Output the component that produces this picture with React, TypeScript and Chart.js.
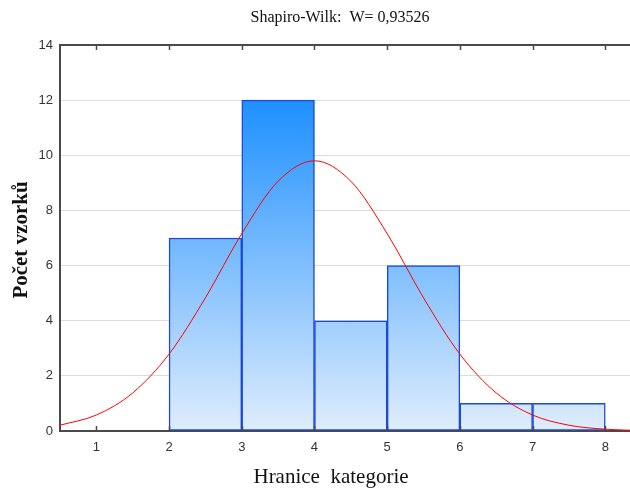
import React, { useEffect, useRef } from "react";
import { Chart, registerables } from "chart.js";

Chart.register(...registerables);

// Histogram bins (class centres) and their counts
const binCenters = [2.5, 3.5, 4.5, 5.5, 6.5, 7.5];
const binCounts = [7, 12, 4, 6, 1, 1];

// Fitted normal curve, expected counts per class
const curveX = [0.5, 1, 1.5, 2, 2.5, 3, 3.5, 4, 4.5, 5, 5.5, 6, 6.5, 7, 7.5, 8, 8.5];
const curveY = [0.21, 0.58, 1.38, 2.79, 4.83, 7.16, 9.06, 9.8, 9.06, 7.16, 4.83, 2.79, 1.38, 0.58, 0.21, 0.065, 0.018];

const yTickStep = 2;
const xTickStep = 1;

const titleText = "Shapiro-Wilk:  W= 0,93526";
const xTitle = "Hranice  kategorie";
const yTitle = "Počet vzorků";

const axisColor = "#4a4a4a";
const tickFont = { family: "'Liberation Sans', Arial, sans-serif", size: 13 };

const decorations = {
  id: "decorations",
  afterDraw(chart: any) {
    const { ctx, chartArea, scales } = chart;
    const { left, right, top, bottom } = chartArea;
    ctx.save();
    // top frame line
    ctx.strokeStyle = axisColor;
    ctx.lineWidth = 2;
    ctx.beginPath();
    ctx.moveTo(left - 1, top);
    ctx.lineTo(right, top);
    ctx.stroke();
    // inward tick marks on bottom and top edges
    ctx.lineWidth = 1.5;
    scales.x.ticks.forEach((t: any) => {
      const px = Math.round(scales.x.getPixelForValue(t.value)) + 0.5;
      ctx.beginPath();
      ctx.moveTo(px, bottom);
      ctx.lineTo(px, bottom - 5);
      ctx.moveTo(px, top);
      ctx.lineTo(px, top + 5);
      ctx.stroke();
    });
    // titles
    ctx.fillStyle = "#111";
    ctx.textAlign = "center";
    ctx.textBaseline = "middle";
    ctx.font = "16px 'Liberation Serif', 'Times New Roman', serif";
    ctx.fillText(titleText, 340, 18);
    ctx.font = "21px 'Liberation Serif', 'Times New Roman', serif";
    ctx.fillText(xTitle, 331, 477);
    ctx.translate(22, 240);
    ctx.rotate(-Math.PI / 2);
    ctx.font = "bold 21px 'Liberation Serif', 'Times New Roman', serif";
    ctx.fillText(yTitle, 0, 0);
    ctx.restore();
  },
};

export default function App() {
  const ref = useRef<HTMLCanvasElement>(null);

  useEffect(() => {
    if (!ref.current) return;
    const barFill = (c: any) => {
      const chart = c.chart;
      const { ctx, chartArea, scales } = chart;
      if (!chartArea) return "rgb(120,180,255)";
      const g = ctx.createLinearGradient(0, scales.y.getPixelForValue(12), 0, scales.y.getPixelForValue(0));
      g.addColorStop(0, "rgb(30,144,255)");
      g.addColorStop(1, "rgb(224,237,252)");
      return g;
    };

    const chart = new Chart(ref.current, {
      type: "bar",
      data: {
        datasets: [
          {
            type: "line",
            data: curveX.map((x, i) => ({ x, y: curveY[i] })),
            borderColor: "rgb(255,0,0)",
            borderWidth: 1,
            pointRadius: 0,
            cubicInterpolationMode: "monotone",
            fill: false,
            order: 0,
          } as any,
          {
            type: "bar",
            data: binCenters.map((x, i) => ({ x, y: binCounts[i] })),
            backgroundColor: barFill,
            borderColor: "#1a4bd6",
            borderWidth: 1.5,
            borderSkipped: false,
            barPercentage: 1,
            categoryPercentage: 1,
            order: 1,
          } as any,
        ],
      },
      options: {
        responsive: false,
        animation: false,
        layout: { padding: { top: 45, right: 0, left: 0, bottom: 0 } },
        plugins: {
          legend: { display: false },
          tooltip: { enabled: false },
          title: { display: false },
        },
        scales: {
          x: {
            type: "linear",
            min: 0.5,
            max: 8.34,
            offset: false,
            ticks: {
              stepSize: xTickStep,
              includeBounds: false,
              color: "#333",
              font: tickFont,
              padding: 9,
            },
            grid: { display: false, drawTicks: false },
            border: { display: true, color: axisColor, width: 2 },
            afterFit: (s: any) => {
              s.height = 59;
            },
          },
          y: {
            min: 0,
            max: 14,
            ticks: {
              stepSize: yTickStep,
              color: "#333",
              font: tickFont,
              padding: 7,
            },
            grid: { color: "#dcdcdc", drawTicks: false },
            border: { display: true, color: axisColor, width: 2 },
            afterFit: (s: any) => {
              s.width = 60;
            },
          },
        },
      } as any,
      plugins: [decorations],
    });
    return () => chart.destroy();
  }, []);

  return (
    <div style={{ position: "fixed", left: 0, top: 0, width: 630, height: 490, background: "#fff" }}>
      <canvas ref={ref} width={630} height={490} />
    </div>
  );
}
